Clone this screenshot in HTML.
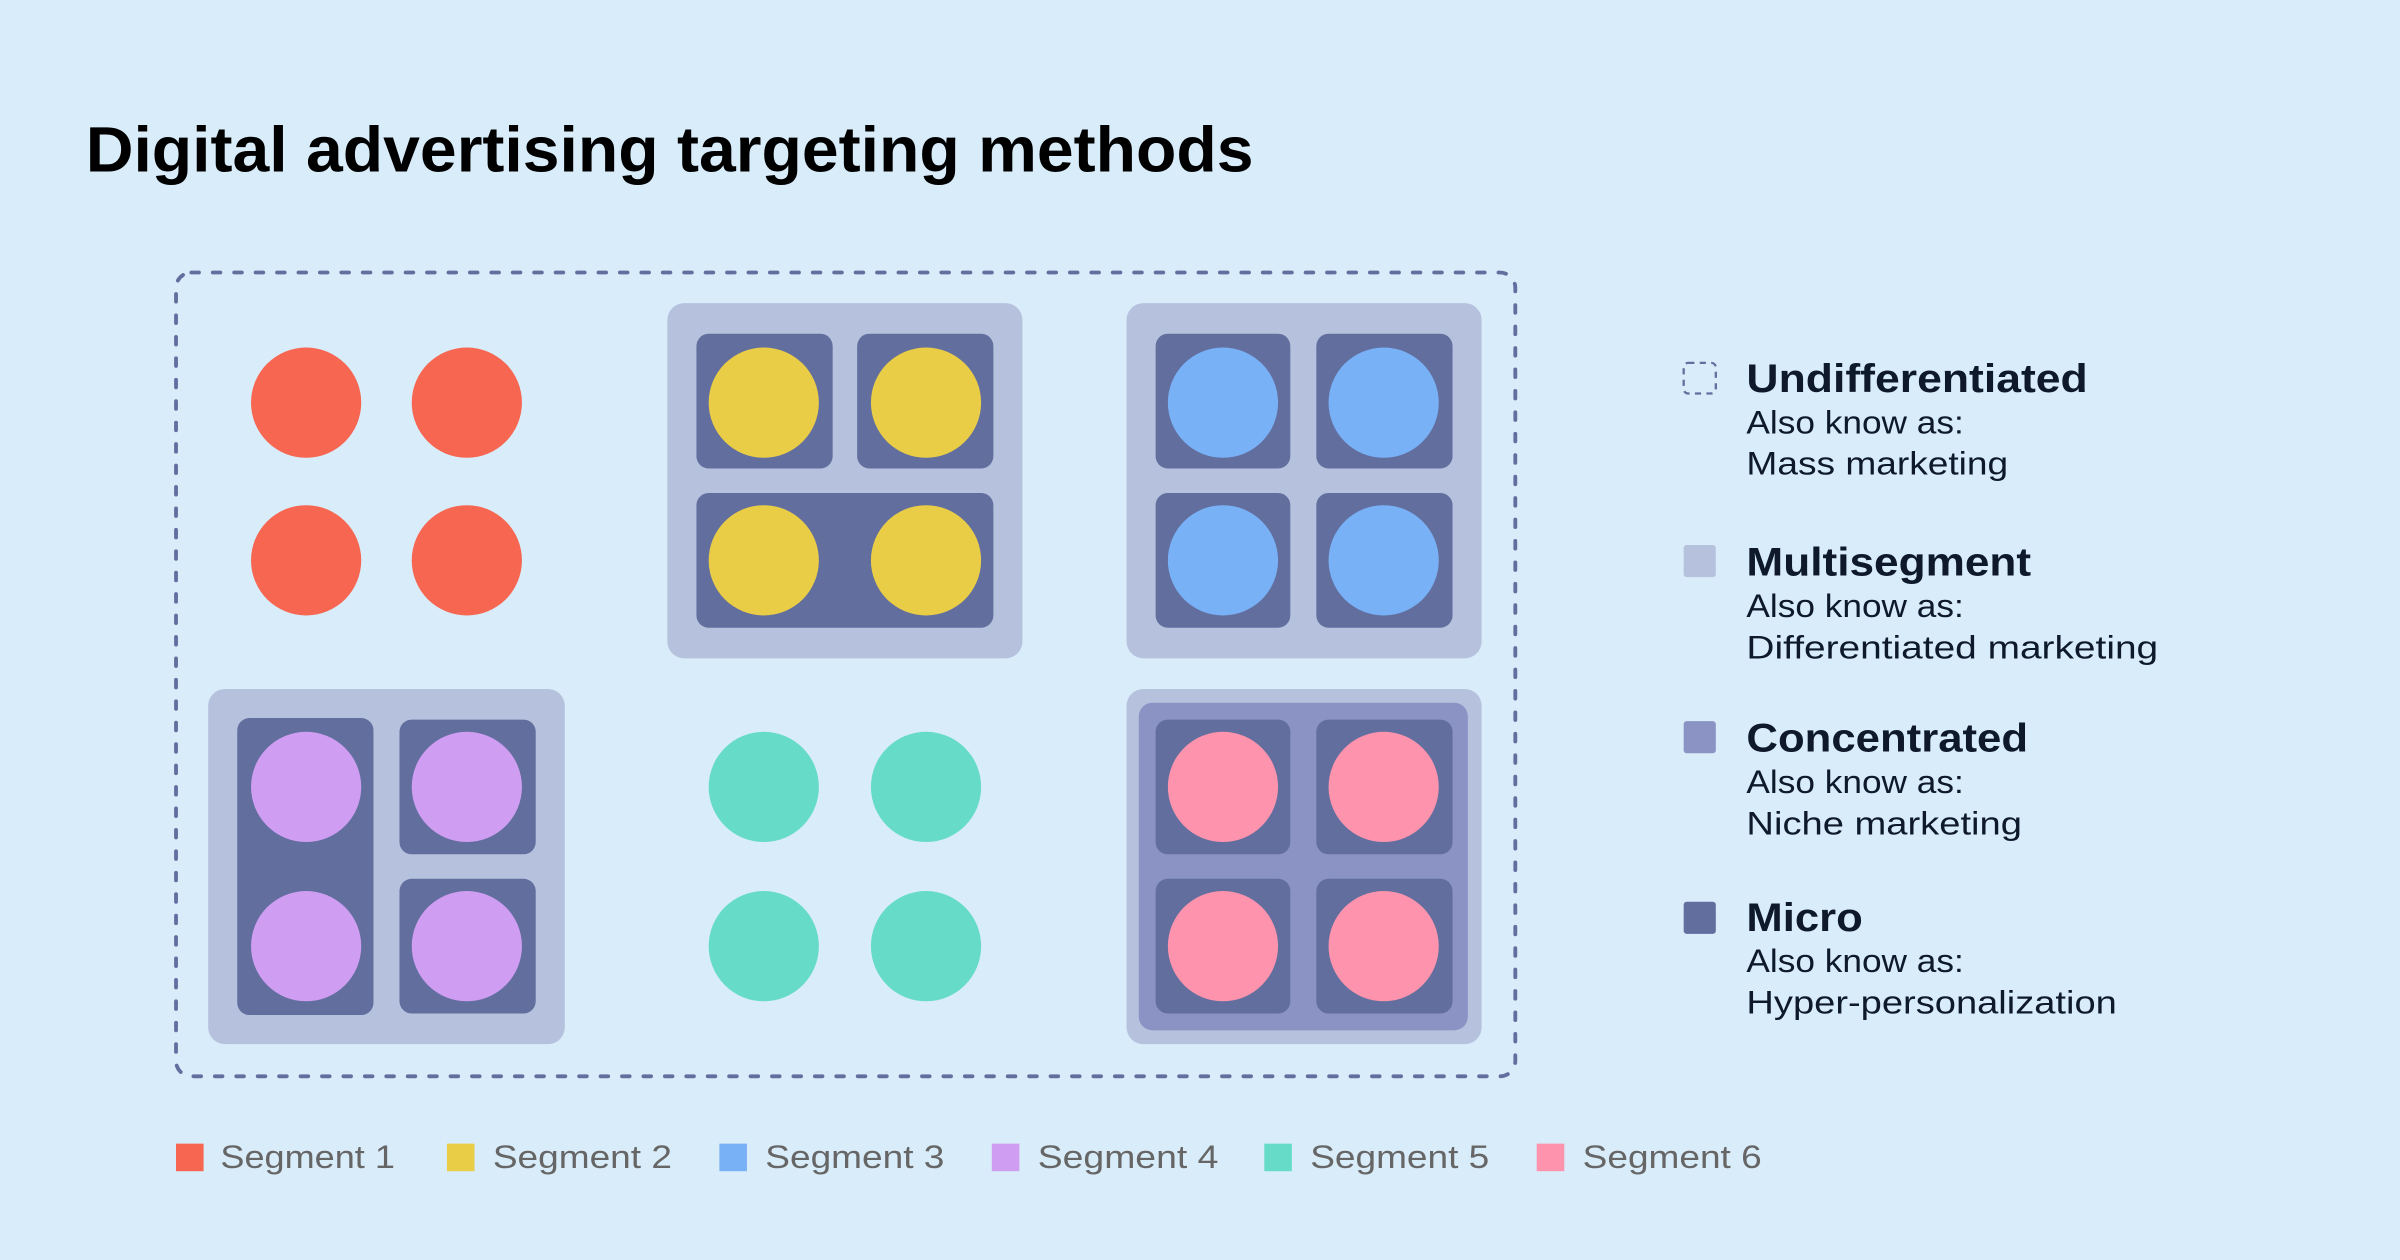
<!DOCTYPE html>
<html><head><meta charset="utf-8"><style>html,body{margin:0;padding:0;background:#d9ecf9;}svg{display:block}</style></head>
<body>
<svg width="2400" height="1260" viewBox="0 0 1568 823" preserveAspectRatio="none" xmlns="http://www.w3.org/2000/svg" font-family="Liberation Sans, sans-serif">
<rect width="1568" height="823" fill="#d9ecf9"/>
<text x="56" y="112" font-size="42" font-weight="bold" fill="#000" textLength="763" lengthAdjust="spacingAndGlyphs">Digital advertising targeting methods</text>
<rect x="115" y="178" width="875" height="525" rx="10" fill="none" stroke="#626e9e" stroke-width="2.5" stroke-dasharray="5,9" stroke-linecap="round"/>
<g fill="#f66651"><circle cx="200" cy="263" r="36"/><circle cx="305" cy="263" r="36"/><circle cx="200" cy="366" r="36"/><circle cx="305" cy="366" r="36"/></g>
<rect x="436" y="198" width="232" height="232" rx="11" fill="#b6c2dd"/>
<g fill="#626e9e"><rect x="455" y="218" width="89" height="88" rx="8"/><rect x="560" y="218" width="89" height="88" rx="8"/><rect x="455" y="322" width="194" height="88" rx="8"/></g>
<g fill="#eacd46"><circle cx="499" cy="263" r="36"/><circle cx="605" cy="263" r="36"/><circle cx="499" cy="366" r="36"/><circle cx="605" cy="366" r="36"/></g>
<rect x="736" y="198" width="232" height="232" rx="11" fill="#b6c2dd"/>
<g fill="#626e9e"><rect x="755" y="218" width="88" height="88" rx="8"/><rect x="860" y="218" width="89" height="88" rx="8"/><rect x="755" y="322" width="88" height="88" rx="8"/><rect x="860" y="322" width="89" height="88" rx="8"/></g>
<g fill="#79b1f6"><circle cx="799" cy="263" r="36"/><circle cx="904" cy="263" r="36"/><circle cx="799" cy="366" r="36"/><circle cx="904" cy="366" r="36"/></g>
<rect x="136" y="450" width="233" height="232" rx="11" fill="#b6c2dd"/>
<g fill="#626e9e"><rect x="155" y="469" width="89" height="194" rx="8"/><rect x="261" y="470" width="89" height="88" rx="8"/><rect x="261" y="574" width="89" height="88" rx="8"/></g>
<g fill="#cf9df2"><circle cx="200" cy="514" r="36"/><circle cx="305" cy="514" r="36"/><circle cx="200" cy="618" r="36"/><circle cx="305" cy="618" r="36"/></g>
<g fill="#66dbc8"><circle cx="499" cy="514" r="36"/><circle cx="605" cy="514" r="36"/><circle cx="499" cy="618" r="36"/><circle cx="605" cy="618" r="36"/></g>
<rect x="736" y="450" width="232" height="232" rx="11" fill="#b6c2dd"/>
<rect x="744" y="459" width="215" height="214" rx="9" fill="#8b93c4"/>
<g fill="#626e9e"><rect x="755" y="470" width="88" height="88" rx="8"/><rect x="860" y="470" width="89" height="88" rx="8"/><rect x="755" y="574" width="88" height="88" rx="8"/><rect x="860" y="574" width="89" height="88" rx="8"/></g>
<g fill="#fd93ac"><circle cx="799" cy="514" r="36"/><circle cx="904" cy="514" r="36"/><circle cx="799" cy="618" r="36"/><circle cx="904" cy="618" r="36"/></g>
<rect x="1100" y="237" width="21" height="20" rx="3" fill="none" stroke="#626e9e" stroke-width="1.5" stroke-dasharray="4,3.5"/>
<rect x="1100" y="356" width="21" height="21" rx="2" fill="#b6c2dd"/>
<rect x="1100" y="471" width="21" height="21" rx="2" fill="#8b93c4"/>
<rect x="1100" y="589" width="21" height="21" rx="2" fill="#626e9e"/>
<g fill="#0e1a2b">
<text x="1141" y="256" font-size="26" font-weight="bold" textLength="223" lengthAdjust="spacingAndGlyphs">Undifferentiated</text>
<text x="1141" y="283" font-size="21" textLength="142" lengthAdjust="spacingAndGlyphs">Also know as:</text>
<text x="1141" y="310" font-size="21" textLength="171" lengthAdjust="spacingAndGlyphs">Mass marketing</text>
<text x="1141" y="376" font-size="26" font-weight="bold" textLength="186" lengthAdjust="spacingAndGlyphs">Multisegment</text>
<text x="1141" y="403" font-size="21" textLength="142" lengthAdjust="spacingAndGlyphs">Also know as:</text>
<text x="1141" y="430" font-size="21" textLength="269" lengthAdjust="spacingAndGlyphs">Differentiated marketing</text>
<text x="1141" y="491" font-size="26" font-weight="bold" textLength="184" lengthAdjust="spacingAndGlyphs">Concentrated</text>
<text x="1141" y="518" font-size="21" textLength="142" lengthAdjust="spacingAndGlyphs">Also know as:</text>
<text x="1141" y="545" font-size="21" textLength="180" lengthAdjust="spacingAndGlyphs">Niche marketing</text>
<text x="1141" y="608" font-size="26" font-weight="bold" textLength="76" lengthAdjust="spacingAndGlyphs">Micro</text>
<text x="1141" y="635" font-size="21" textLength="142" lengthAdjust="spacingAndGlyphs">Also know as:</text>
<text x="1141" y="662" font-size="21" textLength="242" lengthAdjust="spacingAndGlyphs">Hyper-personalization</text>
</g>
<rect x="115" y="747" width="18" height="18" fill="#f66651"/>
<rect x="292" y="747" width="18" height="18" fill="#eacd46"/>
<rect x="470" y="747" width="18" height="18" fill="#79b1f6"/>
<rect x="648" y="747" width="18" height="18" fill="#cf9df2"/>
<rect x="826" y="747" width="18" height="18" fill="#66dbc8"/>
<rect x="1004" y="747" width="18" height="18" fill="#fd93ac"/>
<g fill="#666" font-size="21">
<text x="144" y="763" textLength="114" lengthAdjust="spacingAndGlyphs">Segment 1</text>
<text x="322" y="763" textLength="117" lengthAdjust="spacingAndGlyphs">Segment 2</text>
<text x="500" y="763" textLength="117" lengthAdjust="spacingAndGlyphs">Segment 3</text>
<text x="678" y="763" textLength="118" lengthAdjust="spacingAndGlyphs">Segment 4</text>
<text x="856" y="763" textLength="117" lengthAdjust="spacingAndGlyphs">Segment 5</text>
<text x="1034" y="763" textLength="117" lengthAdjust="spacingAndGlyphs">Segment 6</text>
</g>
</svg>
</body></html>
